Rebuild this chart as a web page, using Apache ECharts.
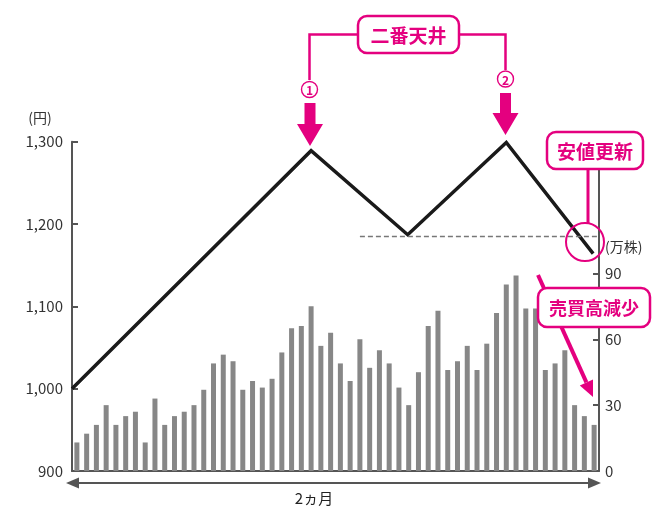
<!DOCTYPE html>
<html>
<head>
<meta charset="utf-8">
<script src="https://cdn.jsdelivr.net/npm/echarts@6/dist/echarts.min.js"></script>
<style>
    html, body { margin: 0; padding: 0; background: #fff; }
    #chart { width: 670px; height: 519px; }
</style>
</head>
<body>
<div id="chart"></div>
<script>
    // 54 trading days over 2 months
    var days = [];
    for (var d = 1; d <= 54; d++) days.push(d);

    // daily volume (万株)
    var volume = [
        13, 17, 21, 30, 21, 25, 27, 13, 33, 21,
        25, 27, 30, 37, 49, 53, 50, 37, 41, 38,
        42, 54, 65, 66, 75, 57, 63, 49, 41, 60,
        47, 55, 49, 38, 30, 45, 66, 73, 46, 50,
        57, 46, 58, 72, 85, 89, 74, 74, 46, 49,
        55, 30, 25, 21
    ];

    // price path (円): position along the 54 days, price
    var priceDay = [0, 24.5, 34.4, 44.5, 53.4];
    var priceVal = [1000, 1289, 1187, 1299, 1164];
    var supportLevel = 1185;

    var priceTicks = [900, 1000, 1100, 1200, 1300];
    var volumeTicks = [0, 30, 60, 90];

    var MAG = '#e4007f';
    var AXIS = '#555';
    var FONT = '"Noto Sans CJK JP", "Noto Sans", sans-serif';

    var pricePoints = [];
    for (var i = 0; i < priceDay.length; i++) {
        pricePoints.push([priceDay[i], priceVal[i]]);
    }

    function box(x, y, w, h, text, size) {
        return {
            type: 'group',
            z: 100,
            children: [
                {
                    type: 'rect',
                    z: 100,
                    shape: {x: x, y: y, width: w, height: h, r: 9},
                    style: {fill: '#fff', stroke: MAG, lineWidth: 2.5}
                },
                {
                    type: 'text',
                    z: 101,
                    x: x + w / 2,
                    y: y + h / 2 + 1,
                    style: {
                        text: text, fill: MAG, font: 'bold ' + size + 'px ' + FONT,
                        align: 'center', verticalAlign: 'middle'
                    }
                }
            ]
        };
    }

    function numCircle(cx, cy, label) {
        return {
            type: 'group',
            z: 100,
            children: [
                {
                    type: 'circle',
                    z: 100,
                    shape: {cx: cx, cy: cy, r: 8},
                    style: {fill: '#fff', stroke: MAG, lineWidth: 1.4}
                },
                {
                    type: 'text',
                    z: 101,
                    x: cx, y: cy + 1,
                    style: {
                        text: label, fill: MAG, font: 'bold 12px ' + FONT,
                        align: 'center', verticalAlign: 'middle'
                    }
                }
            ]
        };
    }

    function downArrow(cx, top, tip) {
        var mid = tip - 22;
        return {
            type: 'polygon',
            z: 100,
            shape: {
                points: [
                    [cx - 5.5, top], [cx + 5.5, top], [cx + 5.5, mid],
                    [cx + 13, mid], [cx, tip], [cx - 13, mid], [cx - 5.5, mid]
                ]
            },
            style: {fill: MAG}
        };
    }

    var chart = echarts.init(document.getElementById('chart'), null, {renderer: 'canvas'});

    var option = {
        animation: false,
        backgroundColor: '#fff',
        grid: {left: 72, right: 71, top: 141.7, bottom: 48, containLabel: false},
        xAxis: [
            {
                type: 'category',
                data: days,
                boundaryGap: true,
                axisLine: {show: true, lineStyle: {color: AXIS, width: 2}},
                axisTick: {show: false},
                axisLabel: {show: false}
            },
            {
                type: 'value',
                min: 0,
                max: 54,
                show: false
            }
        ],
        yAxis: [
            {
                type: 'value',
                min: 900,
                max: 1300,
                interval: 100,
                position: 'left',
                axisLine: {show: true, lineStyle: {color: AXIS, width: 2}},
                axisTick: {show: true, inside: true, length: 6, lineStyle: {color: AXIS, width: 2}},
                axisLabel: {
                    color: '#333', fontSize: 15, fontFamily: FONT, margin: 9,
                    formatter: function (v) { return v >= 1000 ? Math.floor(v / 1000) + ',' + String(v % 1000).padStart(3, '0') : String(v); }
                },
                splitLine: {show: false}
            },
            {
                type: 'value',
                min: 0,
                max: 150,
                interval: 30,
                position: 'right',
                axisLine: {show: true, lineStyle: {color: AXIS, width: 2}},
                axisTick: {show: true, inside: true, length: 6, lineStyle: {color: AXIS, width: 2}, customValues: volumeTicks},
                axisLabel: {color: '#333', fontSize: 15, fontFamily: FONT, margin: 6, customValues: volumeTicks},
                splitLine: {show: false}
            }
        ],
        series: [
            {
                type: 'bar',
                xAxisIndex: 0,
                yAxisIndex: 1,
                data: volume,
                barWidth: 5,
                itemStyle: {color: '#878787'}
            },
            {
                type: 'line',
                xAxisIndex: 1,
                yAxisIndex: 0,
                data: pricePoints,
                symbol: 'none',
                lineStyle: {color: '#1a1a1a', width: 3.5, join: 'miter'},
                markLine: {
                    silent: true,
                    symbol: 'none',
                    label: {show: false},
                    lineStyle: {color: '#777', width: 1.3, type: [5, 3]},
                    data: [[{coord: [29.5, supportLevel]}, {coord: [54, supportLevel]}]]
                }
            }
        ],
        graphic: [
            // axis units
            {
                type: 'text', x: 40, y: 118, z: 100,
                style: {text: '(円)', fill: '#333', font: '14px ' + FONT, align: 'center', verticalAlign: 'middle'}
            },
            {
                type: 'text', x: 605, y: 247, z: 100,
                style: {text: '(万株)', fill: '#333', font: '14px ' + FONT, align: 'left', verticalAlign: 'middle'}
            },
            // double top bracket
            {
                type: 'polyline', z: 99,
                shape: {points: [[309.5, 80], [309.5, 34.5], [360, 34.5]]},
                style: {stroke: MAG, lineWidth: 2.5, fill: null}
            },
            {
                type: 'polyline', z: 99,
                shape: {points: [[457, 34.5], [505.5, 34.5], [505.5, 70]]},
                style: {stroke: MAG, lineWidth: 2.5, fill: null}
            },
            box(358, 16, 101, 37, '二番天井', 19),
            numCircle(309.5, 89.5, '1'),
            numCircle(505.5, 79, '2'),
            downArrow(310, 103, 146),
            downArrow(505.5, 93, 135),
            // new low
            {
                type: 'line', z: 99,
                shape: {x1: 588, y1: 168, x2: 588, y2: 223},
                style: {stroke: MAG, lineWidth: 3}
            },
            {
                type: 'circle', z: 100,
                shape: {cx: 585, cy: 242, r: 19},
                style: {fill: null, stroke: MAG, lineWidth: 2}
            },
            box(547, 132, 96, 37, '安値更新', 19),
            // volume decrease arrow
            {
                type: 'line', z: 99,
                shape: {x1: 538, y1: 275, x2: 586.4, y2: 382.4},
                style: {stroke: MAG, lineWidth: 4}
            },
            {
                type: 'polygon', z: 99,
                shape: {points: [[593, 397], [579.8, 385.6], [593, 379.6]]},
                style: {fill: MAG}
            },
            box(538, 288, 112, 39, '売買高減少', 18),
            // 2 months span
            {
                type: 'line', z: 100,
                shape: {x1: 74, y1: 483, x2: 593, y2: 483},
                style: {stroke: AXIS, lineWidth: 2}
            },
            {
                type: 'polygon', z: 100,
                shape: {points: [[66, 483], [79, 477.5], [79, 488.5]]},
                style: {fill: AXIS}
            },
            {
                type: 'polygon', z: 100,
                shape: {points: [[601, 483], [588, 477.5], [588, 488.5]]},
                style: {fill: AXIS}
            },
            {
                type: 'text', x: 314, y: 498, z: 100,
                style: {text: '2ヵ月', fill: '#222', font: '15px ' + FONT, align: 'center', verticalAlign: 'middle'}
            }
        ]
    };

    chart.setOption(option);
</script>
</body>
</html>
